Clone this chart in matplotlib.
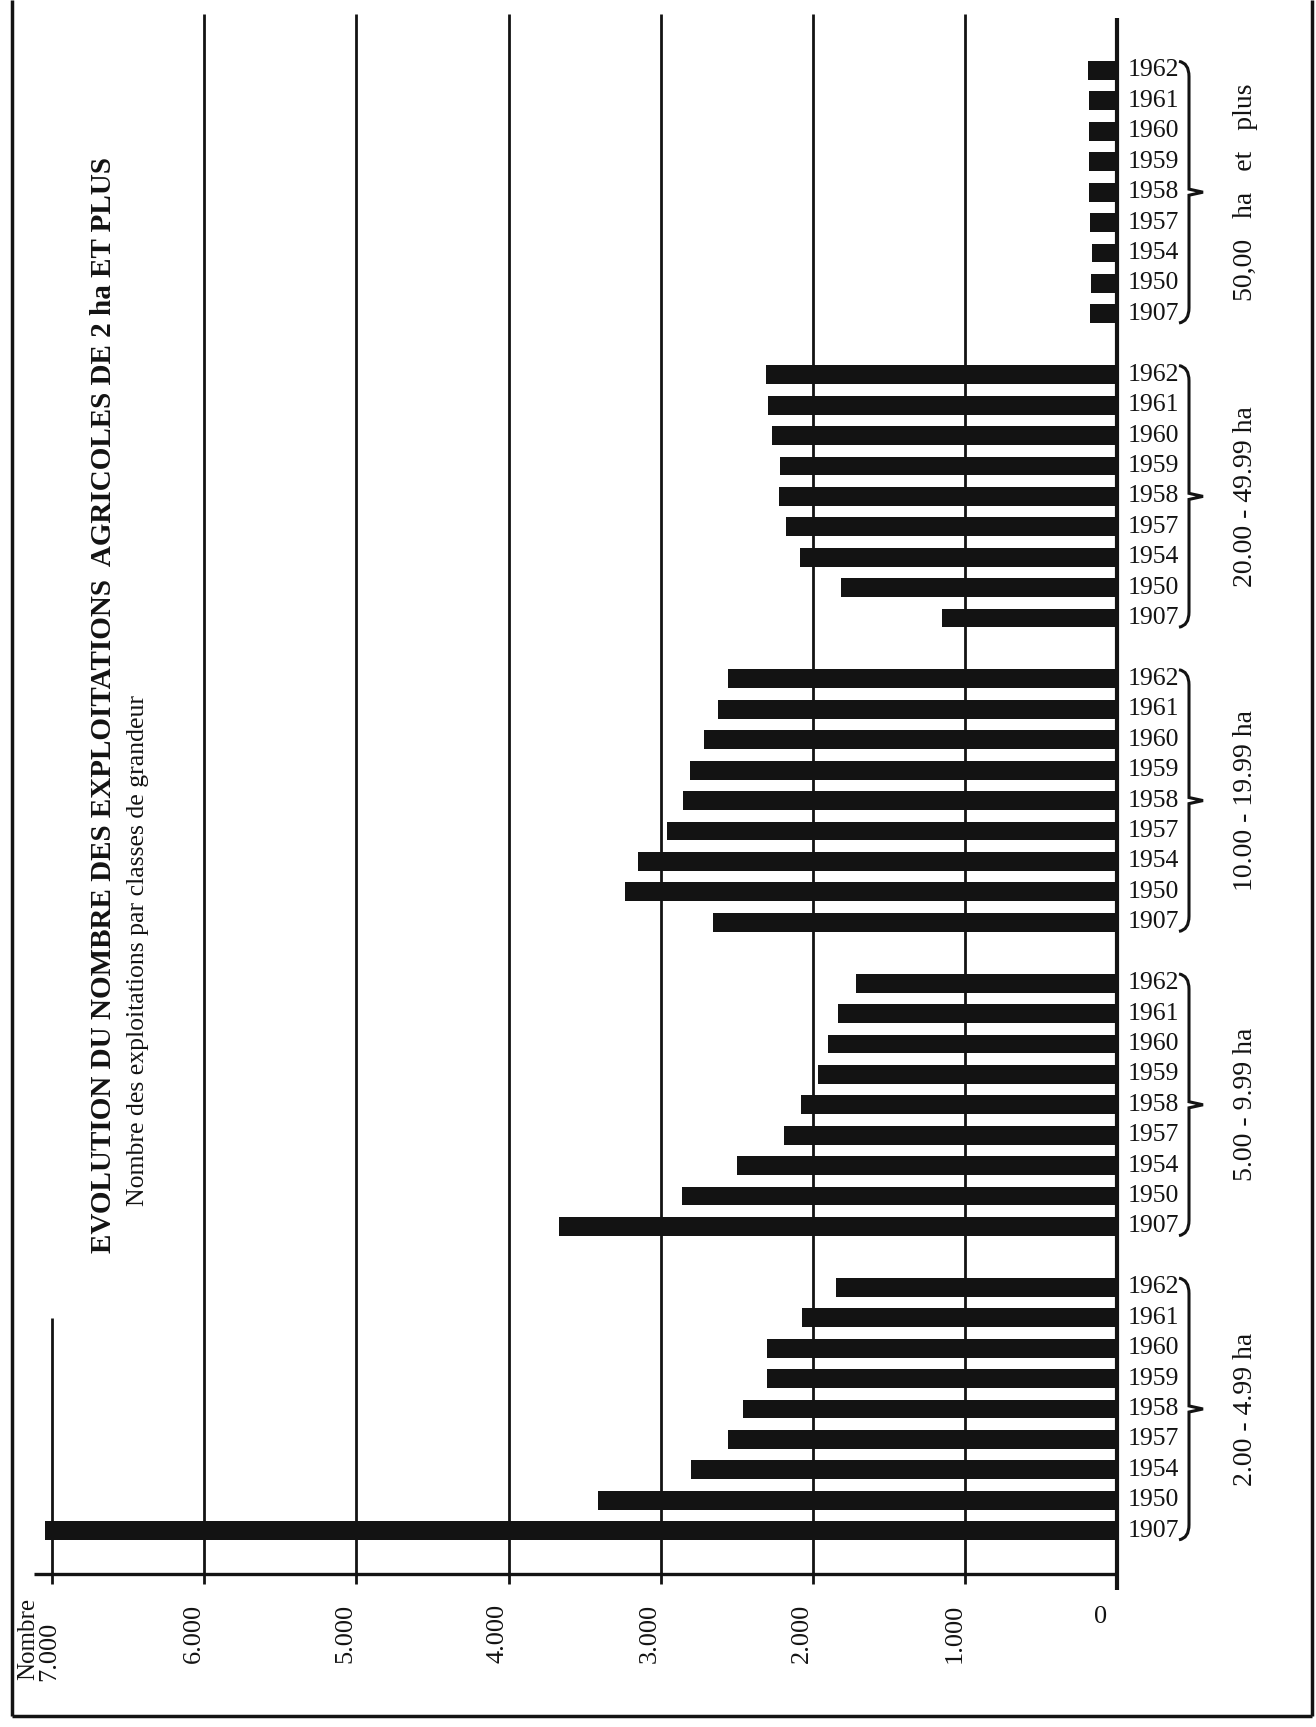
import matplotlib
matplotlib.use("Agg")
import matplotlib.pyplot as plt
from matplotlib.path import Path
from matplotlib.patches import PathPatch
import matplotlib.transforms as mtransforms

# ---------------- data ----------------
years = ["1962", "1961", "1960", "1959", "1958", "1957", "1954", "1950", "1907"]
classes = ["50,00   ha   et   plus", "20.00 - 49.99 ha", "10.00 - 19.99 ha",
           "5.00 - 9.99 ha", "2.00 - 4.99 ha"]
ha_50_plus = [189, 187, 183, 183, 183, 180, 165, 170, 175]
ha_20_50 = [2305, 2296, 2270, 2214, 2219, 2174, 2081, 1815, 1152]
ha_10_20 = [2560, 2620, 2714, 2808, 2852, 2960, 3147, 3237, 2659]
ha_5_10 = [1713, 1837, 1901, 1967, 2077, 2188, 2501, 2861, 3670]
ha_2_5 = [1850, 2071, 2304, 2304, 2456, 2556, 2804, 3411, 7050]
series = [ha_50_plus, ha_20_50, ha_10_20, ha_5_10, ha_2_5]
tick_values = [1000, 2000, 3000, 4000, 5000, 6000, 7000]
tick_labels = ["1.000", "2.000", "3.000", "4.000", "5.000", "6.000", "7.000"]
title = "EVOLUTION DU NOMBRE DES EXPLOITATIONS  AGRICOLES DE 2 ha ET PLUS"
subtitle = "Nombre des exploitations par classes de grandeur"

# ---------------- layout ----------------
W, H = 1316, 1727
X0, S = 1117.0, 0.1521      # pixel of value 0, pixels per unit
Y0, P = 70.5, 30.42         # pixel of first slot, pixels per slot

def vx(px):   # figure pixel x -> value
    return (X0 - px) / S

def sy(py):   # figure pixel y (from top) -> slot
    return (py - Y0) / P

fig = plt.figure(figsize=(W / 100, H / 100), dpi=100)
fig.patch.set_facecolor("white")
ax = fig.add_axes([0, 0, 1, 1])
ax.set_xlim(vx(0), vx(W))
ax.set_ylim(sy(H), sy(0))
ax.axis("off")

serif = ["Liberation Serif", "DejaVu Serif"]
ink = "#131313"

# bar slots: 9 bars per group, one empty slot between groups
slots_by_group = []
for g in range(len(series)):
    slots_by_group.append([g * 10 + i for i in range(len(years))])

for g, vals in enumerate(series):
    ax.barh(slots_by_group[g], vals, height=0.62, left=0, color=ink, zorder=3)

# grid lines
top_slot = sy(14)
bot_slot = sy(1584)
for v in tick_values[:-1]:
    ax.vlines(v, top_slot, bot_slot, color=ink, lw=2.0, zorder=2)
ax.vlines(7000, sy(1318), bot_slot, color=ink, lw=2.0, zorder=2)
ax.vlines(0, sy(18), sy(1590), color=ink, lw=3.0, zorder=4)
ax.hlines(sy(1574), 0, vx(34), color=ink, lw=2.4, zorder=2)

# axis labels (rotated)
for v, lab in zip(tick_values[:-1], tick_labels[:-1]):
    ax.text(v + 70, sy(1604), lab, rotation=90, ha="center", va="top",
            family=serif, fontsize=19, color=ink)
ax.text(vx(1101), sy(1606), "0", ha="center", va="top",
        family=serif, fontsize=19, color=ink)
ax.text(vx(49), sy(1622), tick_labels[-1], rotation=90, ha="center", va="top",
        family=serif, fontsize=19, color=ink)
ax.text(vx(28), sy(1598), "Nombre", rotation=90, ha="center", va="top",
        family=serif, fontsize=18, color=ink)

# year labels, braces and class labels
blend = mtransforms.blended_transform_factory(ax.transAxes, ax.transData)
for g, cls in enumerate(classes):
    sl = slots_by_group[g]
    for s, yr in zip(sl, years):
        ax.text(1128 / W, s, yr, transform=blend, ha="left", va="center",
                family=serif, fontsize=18.5, color=ink)
    ytop, ybot = sl[0] - 0.3, sl[-1] + 0.3
    ymid = (ytop + ybot) / 2
    xa, xb, xc = 1179 / W, 1189 / W, 1203 / W
    verts = [(xa, ytop), (xb, ytop + 0.05), (xb, ytop + 0.5),
             (xb, ymid - 0.5), (xb, ymid - 0.1), (xc, ymid),
             (xb, ymid + 0.1), (xb, ymid + 0.5),
             (xb, ybot - 0.5), (xb, ybot - 0.05), (xa, ybot)]
    codes = [Path.MOVETO, Path.CURVE3, Path.CURVE3,
             Path.LINETO, Path.LINETO, Path.LINETO,
             Path.LINETO, Path.LINETO,
             Path.LINETO, Path.CURVE3, Path.CURVE3]
    ax.add_patch(PathPatch(Path(verts, codes), transform=blend, fill=False,
                           lw=2.2, edgecolor=ink, zorder=5))
    ax.text(1246 / W, ymid, cls, transform=blend, rotation=90, ha="center",
            va="center", family=serif, fontsize=20, color=ink)

# titles
ax.text(vx(104), sy(1253), title, rotation=90, ha="center", va="bottom",
        family=serif, fontsize=21, fontweight="bold", color=ink)
ax.text(vx(138), sy(1206), subtitle, rotation=90, ha="center", va="bottom",
        family=serif, fontsize=18.5, color=ink)

# frame
fr = dict(color=ink, lw=2.5, zorder=1)
ax.vlines(vx(12), sy(0), sy(1716), **fr)
ax.vlines(vx(1312), sy(0), sy(1716), **fr)
ax.hlines(sy(1716), vx(12), vx(1312), **fr)

fig.savefig("out.png", dpi=100, facecolor=fig.get_facecolor())
